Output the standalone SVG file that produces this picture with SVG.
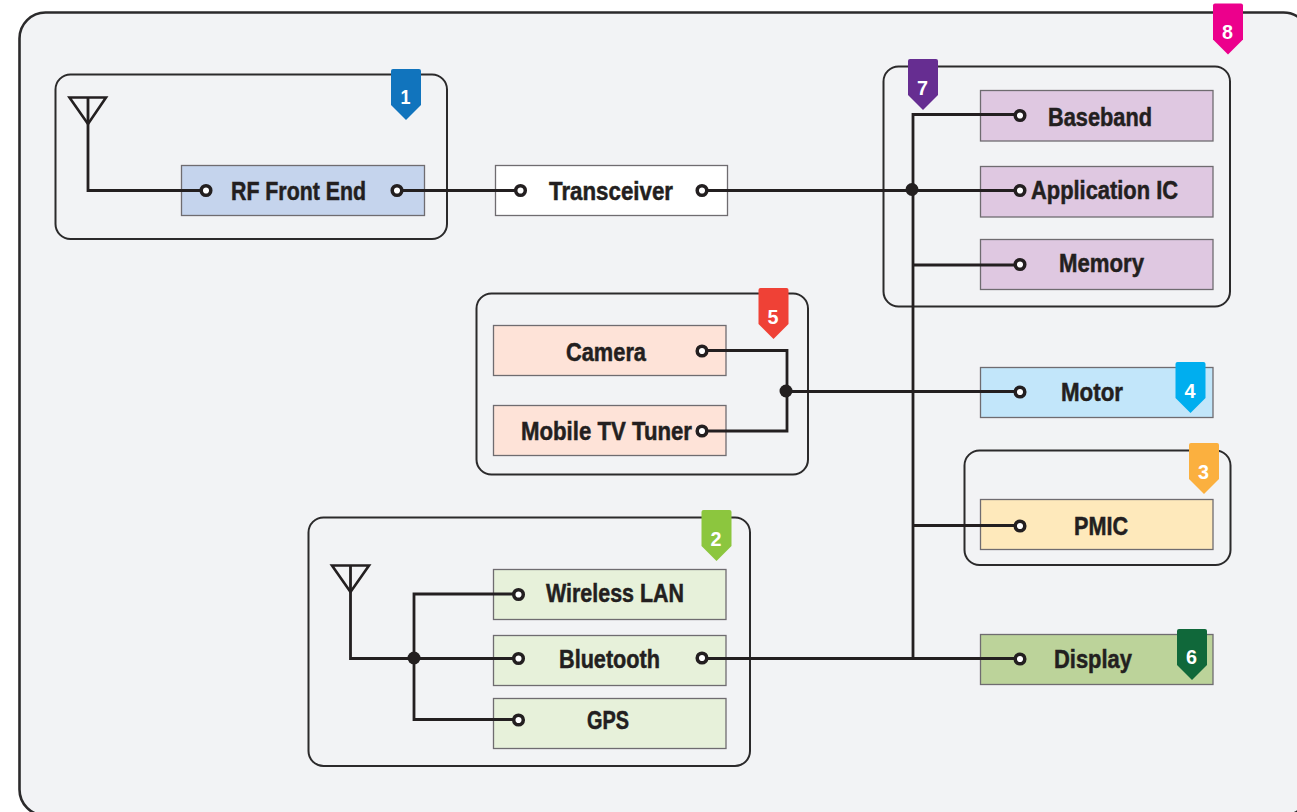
<svg xmlns="http://www.w3.org/2000/svg" width="1297" height="812" viewBox="0 0 1297 812">
<style>
.frame{fill:none;stroke:#2b2a2b;stroke-width:2}
.box{stroke:#6f6c70;stroke-width:1.3}
.lbl{font-family:"Liberation Sans",Arial,sans-serif;font-weight:700;font-size:25px;fill:#231f20;stroke:#231f20;stroke-width:.5}
.num{font-family:"Liberation Sans",Arial,sans-serif;font-weight:700;font-size:21px;fill:#fff;text-anchor:middle}
.wire{fill:none;stroke:#231f20;stroke-width:2.8;stroke-linejoin:miter}
.ant{fill:none;stroke:#231f20;stroke-width:2.6}
.port{fill:#fff;stroke:#231f20;stroke-width:3.5}
.dot{fill:#231f20}
</style>
<defs>
<path id="tag" d="M2 0H28Q30 0 30 2V36L15 51L0 36V2Q0 0 2 0Z"/>
<circle id="p" r="4.800" class="port"/>
</defs>
<rect width="1297" height="812" fill="#fff"/>
<rect id="main-frame" x="19.500" y="12.500" width="1290" height="803" rx="26" fill="#f2f3f5" stroke="#2b2a2b" stroke-width="2.600"/>

<g id="group-rf"><rect class="frame" x="55.500" y="74.500" width="391.500" height="164.500" rx="15"/></g>
<g id="group-soc"><rect class="frame" x="883.500" y="66.500" width="346.500" height="240" rx="15"/></g>
<g id="group-media"><rect class="frame" x="476.500" y="293.500" width="331.500" height="181" rx="15"/></g>
<g id="group-power"><rect class="frame" x="964.500" y="450.500" width="266" height="114.500" rx="15"/></g>
<g id="group-wireless"><rect class="frame" x="308.500" y="517.500" width="441.500" height="248.500" rx="15"/></g>

<g id="node-rf"><rect class="box" x="181.500" y="165.500" width="243" height="50" fill="#c5d4ed"/><text class="lbl" x="231" y="200" textLength="135" lengthAdjust="spacingAndGlyphs">RF Front End</text></g>
<g id="node-transceiver"><rect class="box" x="495.500" y="165.500" width="232" height="50" fill="#fff"/><text class="lbl" x="549" y="200" textLength="124" lengthAdjust="spacingAndGlyphs">Transceiver</text></g>
<g id="node-baseband"><rect class="box" x="980.500" y="90.500" width="232.500" height="50.500" fill="#dfc8e1"/><text class="lbl" x="1048" y="126" textLength="104" lengthAdjust="spacingAndGlyphs">Baseband</text></g>
<g id="node-app"><rect class="box" x="980.500" y="166.500" width="232.500" height="50.500" fill="#dfc8e1"/><text class="lbl" x="1031" y="199" textLength="147" lengthAdjust="spacingAndGlyphs">Application IC</text></g>
<g id="node-memory"><rect class="box" x="980.500" y="239.500" width="232.500" height="50" fill="#dfc8e1"/><text class="lbl" x="1059" y="272" textLength="85" lengthAdjust="spacingAndGlyphs">Memory</text></g>
<g id="node-motor"><rect class="box" x="980.500" y="367.500" width="232.500" height="50" fill="#c2e6fa"/><text class="lbl" x="1061" y="401" textLength="62" lengthAdjust="spacingAndGlyphs">Motor</text></g>
<g id="node-pmic"><rect class="box" x="980.500" y="499.500" width="232.500" height="50" fill="#fee9bb"/><text class="lbl" x="1074" y="535" textLength="54" lengthAdjust="spacingAndGlyphs">PMIC</text></g>
<g id="node-display"><rect class="box" x="980.500" y="634.500" width="232.500" height="50" fill="#bcd39a"/><text class="lbl" x="1054" y="668" textLength="78" lengthAdjust="spacingAndGlyphs">Display</text></g>
<g id="node-camera"><rect class="box" x="493.500" y="325.500" width="232.500" height="50" fill="#fee3d8"/><text class="lbl" x="566" y="360.500" textLength="80" lengthAdjust="spacingAndGlyphs">Camera</text></g>
<g id="node-tv"><rect class="box" x="493.500" y="405.500" width="232.500" height="50" fill="#fee3d8"/><text class="lbl" x="521" y="440" textLength="171" lengthAdjust="spacingAndGlyphs">Mobile TV Tuner</text></g>
<g id="node-wlan"><rect class="box" x="493.500" y="569.500" width="232.500" height="50" fill="#e7f1da"/><text class="lbl" x="546" y="602" textLength="138" lengthAdjust="spacingAndGlyphs">Wireless LAN</text></g>
<g id="node-bt"><rect class="box" x="493.500" y="635.500" width="232.500" height="50" fill="#e7f1da"/><text class="lbl" x="559" y="668" textLength="101" lengthAdjust="spacingAndGlyphs">Bluetooth</text></g>
<g id="node-gps"><rect class="box" x="493.500" y="698.500" width="232.500" height="50" fill="#e7f1da"/><text class="lbl" x="587" y="728.500" textLength="42" lengthAdjust="spacingAndGlyphs">GPS</text></g>

<g id="connectors">
<path class="ant" d="M69.500 97.500H106L88 124Z"/>
<path class="wire" d="M88 97V190.500H206"/>
<path class="wire" d="M397 190.500H520"/>
<path class="wire" d="M702 190.500H1020"/>
<path class="wire" d="M1020 114.500H913V658.500"/>
<path class="wire" d="M913 265H1020"/>
<path class="wire" d="M913 525.500H1020"/>
<path class="wire" d="M702 658.500H1020"/>
<path class="wire" d="M702 350.500H787V431H702"/>
<path class="wire" d="M786 391.500H1020"/>
<path class="ant" d="M332 565.500H369L350.500 592Z"/>
<path class="wire" d="M350.500 565V658.500H519"/>
<path class="wire" d="M519 594H414V719.500H519"/>
<circle class="dot" cx="912" cy="189.500" r="6.500"/>
<circle class="dot" cx="786" cy="391" r="6.500"/>
<circle class="dot" cx="414" cy="658" r="6.500"/>
<use href="#p" x="206" y="190.500"/><use href="#p" x="397" y="190.500"/>
<use href="#p" x="520.500" y="190.500"/><use href="#p" x="702" y="190.500"/>
<use href="#p" x="1020" y="115.500"/><use href="#p" x="1020" y="190.500"/><use href="#p" x="1020" y="264.500"/>
<use href="#p" x="1020" y="392"/><use href="#p" x="1020" y="526"/><use href="#p" x="1020" y="659"/>
<use href="#p" x="702" y="351"/><use href="#p" x="702" y="431"/>
<use href="#p" x="518.500" y="594.500"/><use href="#p" x="518.500" y="658.500"/><use href="#p" x="702" y="658"/><use href="#p" x="518.500" y="720"/>
</g>

<g id="tag-1"><use href="#tag" x="391" y="69" fill="#1174bd"/><text class="num" x="405.500" y="103.500" textLength="10" lengthAdjust="spacingAndGlyphs">1</text></g>
<g id="tag-2"><use href="#tag" x="701.500" y="510" fill="#8cc63e"/><text class="num" x="716" y="546" textLength="11" lengthAdjust="spacingAndGlyphs">2</text></g>
<g id="tag-3"><use href="#tag" x="1189" y="443" fill="#fbb03f"/><text class="num" x="1203.500" y="479" textLength="11" lengthAdjust="spacingAndGlyphs">3</text></g>
<g id="tag-4"><use href="#tag" x="1175.500" y="362" fill="#00aeef"/><text class="num" x="1190" y="398" textLength="11" lengthAdjust="spacingAndGlyphs">4</text></g>
<g id="tag-5"><use href="#tag" x="758.500" y="288" fill="#ef4136"/><text class="num" x="773" y="323.500" textLength="11" lengthAdjust="spacingAndGlyphs">5</text></g>
<g id="tag-6"><use href="#tag" x="1177" y="629" fill="#10683a"/><text class="num" x="1191.500" y="664" textLength="11" lengthAdjust="spacingAndGlyphs">6</text></g>
<g id="tag-7"><use href="#tag" x="908" y="59" fill="#662d91"/><text class="num" x="922.500" y="94.500" textLength="11" lengthAdjust="spacingAndGlyphs">7</text></g>
<g id="tag-8"><use href="#tag" x="1213" y="3.500" fill="#ec008c"/><text class="num" x="1227.500" y="38.500" textLength="11" lengthAdjust="spacingAndGlyphs">8</text></g>
</svg>
